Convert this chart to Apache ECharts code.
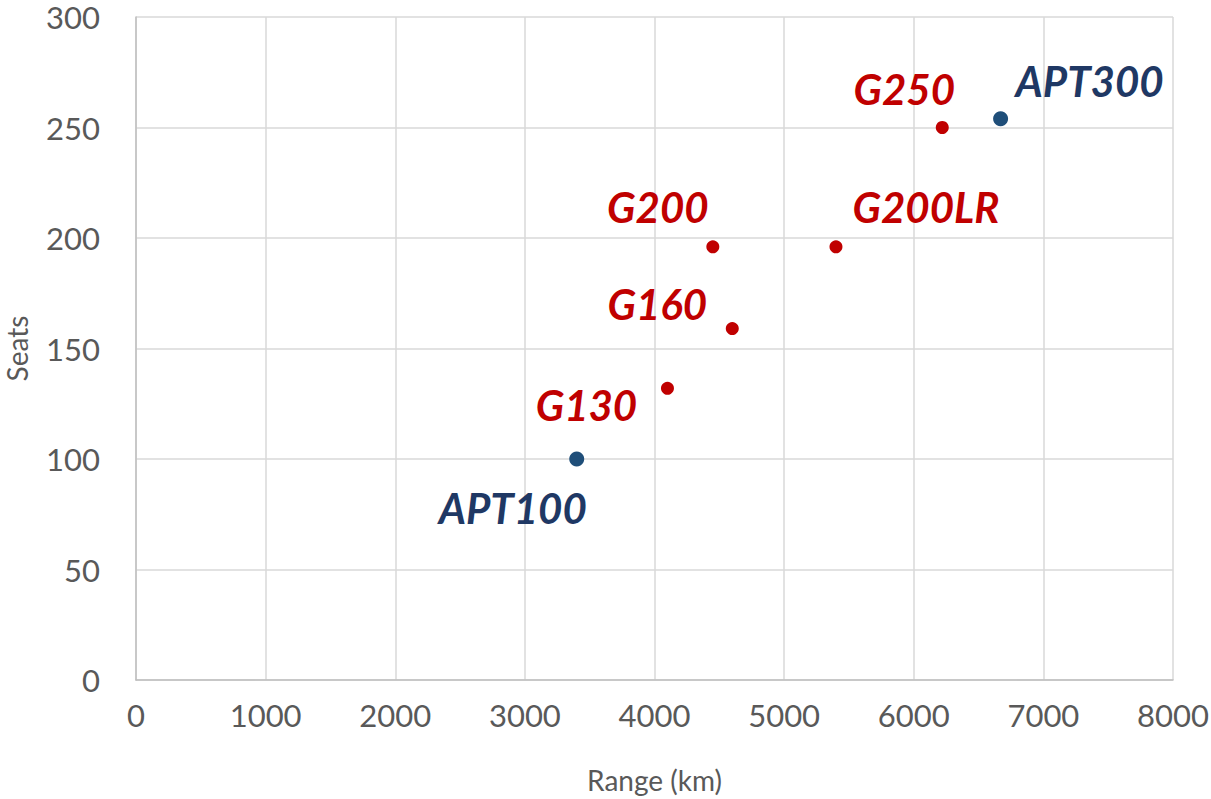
<!DOCTYPE html>
<html>
<head>
<meta charset="utf-8">
<script src="https://cdn.jsdelivr.net/npm/echarts@6/dist/echarts.min.js"></script>
<style>
  html, body { margin: 0; padding: 0; background: #fff; }
  #chart { width: 1211px; height: 799px; }
</style>
</head>
<body>
<div id="chart"></div>
<script>
// aircraft data
var aptNames = ['APT100', 'APT300'];
var aptRange = [3400, 6670];
var aptSeats = [100, 254];

var gNames = ['G130', 'G160', 'G200', 'G200LR', 'G250'];
var gRange = [4100, 4600, 4450, 5400, 6220];
var gSeats = [132, 159, 196, 196, 250];

var xTicks = { min: 0, max: 8000, interval: 1000 };
var yTicks = { min: 0, max: 300, interval: 50 };

// label placement (px offset from the dot centre)
var labelOffset = {
  APT100: [-64, 49], APT300: [89, -38],
  G130: [-81, 17], G160: [-75, -25], G200: [-55, -40], G200LR: [90, -40], G250: [-38, -39]
};

function build(names, xs, ys, color) {
  return names.map(function (n, i) {
    return {
      name: n,
      value: [xs[i], ys[i]],
      label: { offset: labelOffset[n], color: color }
    };
  });
}

var chart = echarts.init(document.getElementById('chart'), null, { renderer: 'svg' });

var labelFont = {
  show: true,
  position: 'inside',
  formatter: '{b}',
  fontFamily: 'Lato',
  fontWeight: 'bold',
  fontStyle: 'italic',
  fontSize: 42
};

var option = {
  animation: false,
  textStyle: { fontFamily: 'Lato' },
  grid: { left: 136, right: 38, top: 17, bottom: 119, outerBoundsMode: 'none', containLabel: false },
  xAxis: {
    type: 'value',
    min: xTicks.min, max: xTicks.max, interval: xTicks.interval,
    name: 'Range (km)',
    nameLocation: 'middle',
    nameGap: 86,
    nameTextStyle: { color: '#595959', fontSize: 28 },
    axisLine: { show: true, lineStyle: { color: '#BFBFBF', width: 1.5 } },
    axisTick: { show: false },
    axisLabel: { color: '#595959', fontSize: 31, lineHeight: 30, margin: 20, formatter: function (v) { return String(v); } },
    splitLine: { show: true, lineStyle: { color: '#D9D9D9', width: 1.5 } }
  },
  yAxis: {
    type: 'value',
    min: yTicks.min, max: yTicks.max, interval: yTicks.interval,
    name: 'Seats',
    nameLocation: 'middle',
    nameGap: 105,
    nameTextStyle: { color: '#595959', fontSize: 28 },
    axisLine: { show: true, lineStyle: { color: '#BFBFBF', width: 1.5 } },
    axisTick: { show: false },
    axisLabel: { color: '#595959', fontSize: 31, lineHeight: 30, margin: 36, formatter: function (v) { return String(v); } },
    splitLine: { show: true, lineStyle: { color: '#D9D9D9', width: 1.5 } }
  },
  series: [
    {
      name: 'G',
      type: 'scatter',
      symbolSize: 13,
      itemStyle: { color: '#C00000', opacity: 1 },
      label: labelFont,
      data: build(gNames, gRange, gSeats, '#C00000')
    },
    {
      name: 'APT',
      type: 'scatter',
      symbolSize: 15,
      itemStyle: { color: '#1F4E79', opacity: 1 },
      label: labelFont,
      data: build(aptNames, aptRange, aptSeats, '#1F3864')
    }
  ]
};

chart.setOption(option);
</script>
</body>
</html>
